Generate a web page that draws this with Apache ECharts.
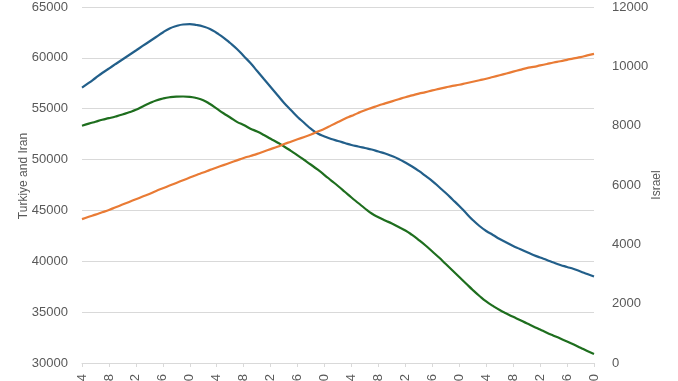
<!DOCTYPE html>
<html>
<head>
<meta charset="utf-8">
<script src="https://cdn.jsdelivr.net/npm/echarts@6/dist/echarts.min.js"></script>
<style>html,body{margin:0;padding:0;background:#fff;}#c{width:678px;height:381px;}</style>
</head>
<body>
<div id="c"></div>
<script>
const years = [];
for (let y = 2024; y <= 2100; y++) years.push(String(y));

const leftAxisName = 'Turkiye and Iran';
const rightAxisName = 'Israel';

const blueSeries = [
57070,57530,58020,58510,58950,59400,59840,60280,60720,61170,
61610,62050,62490,62890,63130,63280,63310,63230,63080,62840,
62440,62000,61460,60870,60180,59490,58710,57920,57140,56350,
55560,54870,54190,53600,53010,52560,52270,52020,51830,51630,
51430,51290,51140,50990,50790,50600,50350,50060,49710,49320,
48880,48390,47890,47300,46710,46080,45440,44750,44060,43470,
42980,42590,42190,41850,41500,41210,40910,40620,40370,40130,
39880,39640,39440,39240,39000,38750,38510];

const greenSeries = [
53330,53530,53720,53910,54070,54240,54430,54650,54890,55220,
55530,55810,56000,56130,56190,56200,56170,56050,55840,55460,
55000,54550,54140,53710,53400,53040,52760,52420,52040,51680,
51290,50860,50420,49960,49490,49000,48480,47940,47400,46840,
46270,45730,45190,44700,44330,44010,43720,43370,43030,42590,
42090,41550,40960,40370,39730,39100,38460,37820,37180,36590,
36050,35610,35210,34870,34540,34230,33900,33600,33290,32980,
32690,32400,32120,31820,31500,31180,30890];

const israelSeries = [
4850,4930,5000,5080,5160,5250,5340,5430,5520,5610,
5700,5800,5890,5980,6070,6160,6250,6340,6420,6510,
6590,6670,6750,6830,6910,6980,7050,7130,7210,7290,
7380,7460,7540,7620,7700,7800,7900,8010,8120,8230,
8330,8430,8520,8600,8680,8750,8820,8890,8960,9020,
9080,9130,9190,9240,9290,9340,9380,9430,9480,9530,
9580,9640,9700,9760,9820,9880,9940,9980,10030,10080,
10130,10170,10220,10270,10310,10370,10420];

const chart = echarts.init(document.getElementById('c'), null, {renderer: 'canvas'});
const gray = '#595959';
const fontFamily = 'Liberation Sans, Arial, sans-serif';
const plain = v => String(v);
chart.setOption({
  animation: false,
  backgroundColor: '#ffffff',
  grid: {left: 82, right: 84, top: 7, bottom: 18, containLabel: false, outerBoundsMode: 'none'},
  xAxis: {
    type: 'category',
    data: years,
    boundaryGap: false,
    axisLine: {show: true, lineStyle: {color: '#d9d9d9'}},
    axisTick: {show: true, interval: 3, length: 4, lineStyle: {color: '#d9d9d9'}},
    axisLabel: {interval: 3, rotate: 90, color: gray, fontSize: 13, fontFamily: fontFamily, margin: 11},
    splitLine: {show: false}
  },
  yAxis: [
    {
      type: 'value', min: 30000, max: 65000, interval: 5000,
      name: leftAxisName, nameLocation: 'middle', nameGap: 52, nameMoveOverlap: false,
      nameTextStyle: {color: gray, fontSize: 12, fontFamily: fontFamily, padding: [0, 0, 0, 18]},
      axisLine: {show: false}, axisTick: {show: false},
      axisLabel: {color: gray, fontSize: 13, fontFamily: fontFamily, margin: 14, formatter: plain},
      splitLine: {show: true, lineStyle: {color: '#d9d9d9', width: 1}}
    },
    {
      type: 'value', min: 0, max: 12000, interval: 2000, position: 'right',
      name: rightAxisName, nameLocation: 'middle', nameGap: 57, nameMoveOverlap: false,
      nameTextStyle: {color: gray, fontSize: 12, fontFamily: fontFamily},
      axisLine: {show: false}, axisTick: {show: false},
      axisLabel: {color: gray, fontSize: 13, fontFamily: fontFamily, margin: 18, formatter: plain},
      splitLine: {show: false}
    }
  ],
  series: [
    {name: 'Blue', type: 'line', yAxisIndex: 0, data: blueSeries, smooth: true, showSymbol: false,
     lineStyle: {color: '#225f8a', width: 2.2}, itemStyle: {color: '#225f8a'}},
    {name: 'Green', type: 'line', yAxisIndex: 0, data: greenSeries, smooth: true, showSymbol: false,
     lineStyle: {color: '#1e6e1e', width: 2.2}, itemStyle: {color: '#1e6e1e'}},
    {name: 'Israel', type: 'line', yAxisIndex: 1, data: israelSeries, smooth: true, showSymbol: false,
     lineStyle: {color: '#e97b35', width: 2.2}, itemStyle: {color: '#e97b35'}}
  ]
});
</script>
</body>
</html>
